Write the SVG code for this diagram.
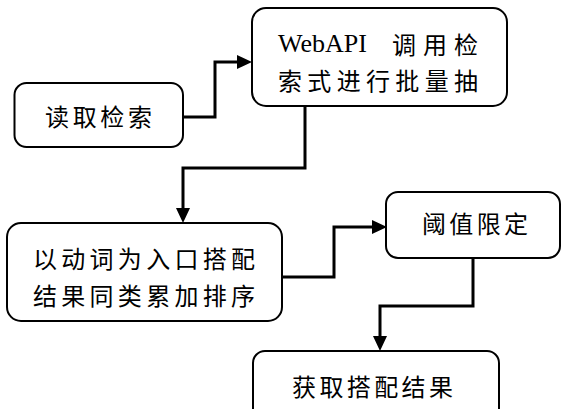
<svg xmlns="http://www.w3.org/2000/svg" width="561" height="409" viewBox="0 0 561 409">
<defs>
<style>
.box{fill:#fff;stroke:#000;stroke-width:2}
.t{font-family:"Noto Sans CJK SC","Noto Sans",sans-serif;font-size:24px;fill:#000;dominant-baseline:central}
.s{font-family:"Liberation Serif","Times New Roman",serif;font-size:26px}
.c{fill:none;stroke:#000;stroke-width:3}
</style>
<marker id="ah" markerUnits="userSpaceOnUse" markerWidth="15" markerHeight="14" refX="0" refY="7" orient="auto">
<path d="M0,0 L15,7 L0,14 z" fill="#000"/>
</marker>
</defs>
<rect x="0" y="0" width="561" height="409" fill="#fff"/>
<g id="connectors">
<path class="c" d="M183,117 H215 V62 H237" marker-end="url(#ah)"/>
<path class="c" d="M305,106 V168 H183 V208" marker-end="url(#ah)"/>
<path class="c" d="M282,277 H334 V227 H372" marker-end="url(#ah)"/>
<path class="c" d="M473,258 V306 H380 V336" marker-end="url(#ah)"/>
</g>
<g id="n1">
<rect class="box" x="14.5" y="83" width="168.5" height="64" rx="12"/>
<text class="t" x="45" y="115" textLength="107" lengthAdjust="spacing">读取检索</text>
</g>
<g id="n2">
<rect class="box" x="252" y="8" width="255" height="98" rx="14"/>
<text class="t" y="43"><tspan class="s" x="278">WebAPI</tspan><tspan x="392">调</tspan><tspan x="423">用</tspan><tspan x="454">检</tspan></text>
<text class="t" x="278" y="79" textLength="200" lengthAdjust="spacing">索式进行批量抽</text>
</g>
<g id="n3">
<rect class="box" x="7" y="223" width="275" height="98" rx="14"/>
<text class="t" x="33" y="257" textLength="222" lengthAdjust="spacing">以动词为入口搭配</text>
<text class="t" x="33" y="294" textLength="222" lengthAdjust="spacing">结果同类累加排序</text>
</g>
<g id="n4">
<rect class="box" x="386" y="192" width="174" height="66" rx="12"/>
<text class="t" x="422" y="222" textLength="106" lengthAdjust="spacing">阈值限定</text>
</g>
<g id="n5">
<rect class="box" x="253" y="351" width="246" height="70" rx="12"/>
<text class="t" x="292" y="385" textLength="161" lengthAdjust="spacing">获取搭配结果</text>
</g>
</svg>
